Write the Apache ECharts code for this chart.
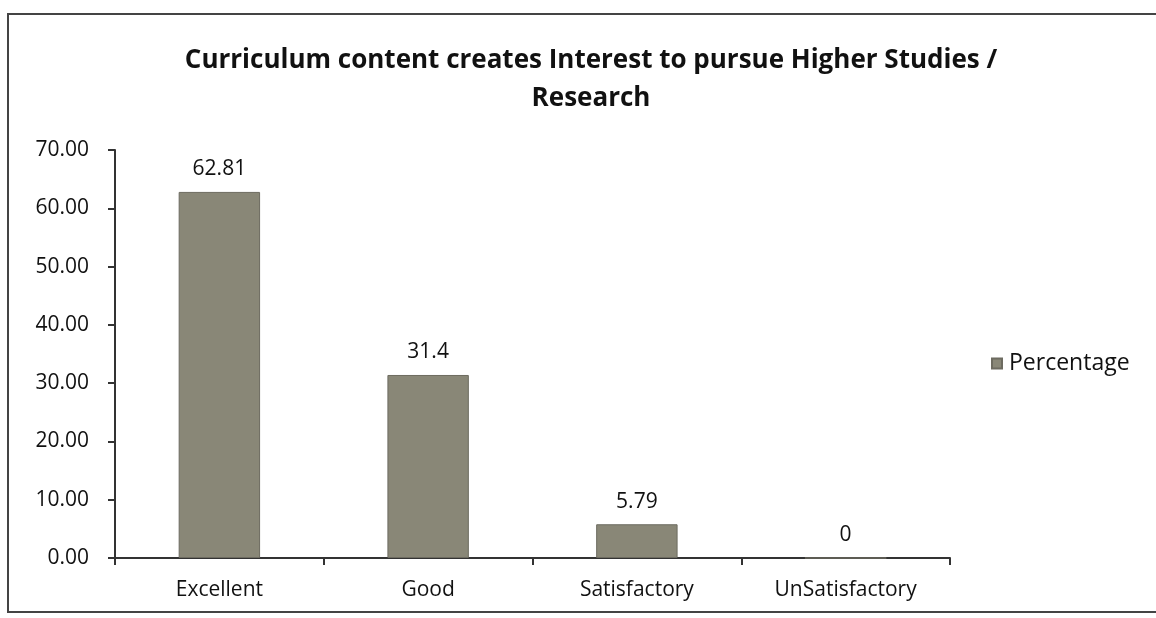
<!DOCTYPE html>
<html>
<head>
<meta charset="utf-8">
<script src="https://cdn.jsdelivr.net/npm/echarts@6/dist/echarts.min.js"></script>
<style>
  html, body { margin: 0; padding: 0; background: #fff; }
  #chart { width: 1156px; height: 618px; }
</style>
</head>
<body>
<div id="chart"></div>
<script>
const categories = ['Excellent', 'Good', 'Satisfactory', 'UnSatisfactory'];
const percentage = [62.81, 31.4, 5.79, 0];
const valueLabels = ['62.81', '31.4', '5.79', '0'];

const chart = echarts.init(document.getElementById('chart'));
const font = 'Open Sans';

const option = {
  animation: false,
  title: {
    text: 'Curriculum content creates Interest to pursue Higher Studies /\nResearch',
    left: 586,
    top: 37,
    textAlign: 'center',
    textStyle: {
      fontFamily: font,
      fontWeight: 'bold',
      fontSize: 26,
      lineHeight: 38,
      color: '#111'
    }
  },
  graphic: [
    {
      type: 'rect',
      shape: { x: 8, y: 14, width: 1160, height: 598 },
      style: { fill: 'none', stroke: '#444', lineWidth: 2 }
    }
  ],
  legend: {
    left: 986,
    top: 347,
    orient: 'vertical',
    itemWidth: 10,
    itemHeight: 10,
    itemGap: 6,
    icon: 'rect',
    textStyle: { fontFamily: font, fontSize: 23, fontWeight: 500, color: '#111', padding: [0, 0, 0, 2] },
    data: ['Percentage']
  },
  grid: { left: 115, right: 206, top: 150, bottom: 60, containLabel: false },
  xAxis: {
    type: 'category',
    data: categories,
    axisLine: { lineStyle: { color: '#333', width: 2 } },
    axisTick: { show: true, length: 7, lineStyle: { color: '#333', width: 2 } },
    axisLabel: { fontFamily: font, fontSize: 21, color: '#111', margin: 22 }
  },
  yAxis: {
    type: 'value',
    min: 0,
    max: 70,
    interval: 10,
    splitLine: { show: false },
    axisLine: { show: true, lineStyle: { color: '#333', width: 2 } },
    axisTick: { show: true, length: 7, lineStyle: { color: '#333', width: 2 } },
    axisLabel: {
      fontFamily: font,
      fontSize: 21,
      color: '#111',
      margin: 26,
      formatter: function (v) { return v.toFixed(2); }
    }
  },
  series: [
    {
      name: 'Percentage',
      type: 'bar',
      data: percentage,
      barCategoryGap: '61%',
      itemStyle: { color: '#898777', borderColor: '#6d6b60', borderWidth: 1 },
      label: {
        show: true,
        position: 'top',
        distance: 12,
        fontFamily: font,
        fontSize: 21,
        color: '#111',
        formatter: function (p) { return valueLabels[p.dataIndex]; }
      }
    }
  ]
};

chart.setOption(option);
</script>
</body>
</html>
